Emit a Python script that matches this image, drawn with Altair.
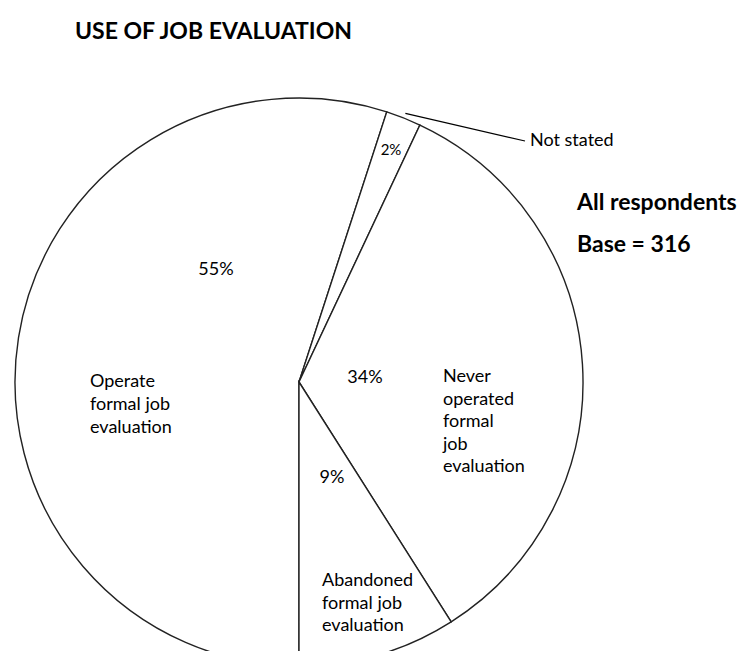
import math
import altair as alt
import pandas as pd

# ---- chart values -------------------------------------------------------
title_text = "USE OF JOB EVALUATION"
categories = [
    "Operate formal job evaluation",
    "Not stated",
    "Never operated formal job evaluation",
    "Abandoned formal job evaluation",
]
shares = [55, 2, 34, 9]
share_labels = ["55%", "2%", "34%", "9%"]
category_lines = [
    ["Operate", "formal job", "evaluation"],
    ["Not stated"],
    ["Never", "operated", "formal", "job", "evaluation"],
    ["Abandoned", "formal job", "evaluation"],
]
note_lines = ["All respondents", "Base = 316"]

# ---- layout / style -----------------------------------------------------
FONT = "Lato"
CX, CY, R = 291, 374, 284          # pie centre and radius (view pixels)
START = math.pi                   # first slice starts at 6 o'clock

df = pd.DataFrame({
    "category": categories,
    "share": shares,
    "label": share_labels,
    "order": list(range(len(categories))),
})
one = pd.DataFrame({"k": [0]})

theta = alt.Theta("share:Q", stack=True,
                  scale=alt.Scale(range=[START, START + 2 * math.pi]))
base = alt.Chart(df).encode(theta=theta, order=alt.Order("order:Q"))

pie = base.mark_arc(radius=R, fill="white", stroke="#222222", strokeWidth=1.4).encode(
    x=alt.value(CX), y=alt.value(CY)
)

# label inside the thin "Not stated" slice, positioned from the data
small_label = base.mark_text(font=FONT, fontSize=15, align="center", baseline="middle",
                             color="black").encode(
    x=alt.value(CX), y=alt.value(CY), radius=alt.value(250),
    text=alt.condition("datum.category == 'Not stated'", alt.Text("label:N"), alt.value("")),
)


def note(text, x, y, size, weight="normal", align="left", baseline="alphabetic", lh=None):
    kw = dict(font=FONT, fontSize=size, fontWeight=weight, align=align,
              baseline=baseline, color="black")
    if lh is not None:
        kw["lineHeight"] = lh
    return alt.Chart(one).mark_text(**kw).encode(
        x=alt.value(x), y=alt.value(y), text=alt.value(text)
    )


# leader line for "Not stated": from the slice rim to the label
total = sum(shares)
mid_angle = START + 2 * math.pi * (sum(shares[:1]) + shares[1] / 2) / total
lx1 = CX + (R + 5) * math.sin(mid_angle)
ly1 = CY - (R + 5) * math.cos(mid_angle)
leader = alt.Chart(one).mark_rule(color="black", strokeWidth=1.2).encode(
    x=alt.value(lx1), y=alt.value(ly1), x2=alt.value(517), y2=alt.value(133)
)

LBL = 18
layers = [
    pie,
    small_label,
    leader,
    note(title_text, 67, 31, 23, weight="bold"),
    note(note_lines[0], 569, 202, 23, weight="bold"),
    note(note_lines[1], 569, 244, 23, weight="bold"),
    note(category_lines[1][0], 522, 138, LBL),
    note(share_labels[0], 208, 262, LBL, align="center", baseline="middle"),
    note(category_lines[0], 82, 379, LBL, lh=23),
    note(share_labels[2], 357, 370, LBL, align="center", baseline="middle"),
    note(category_lines[2], 435, 374, LBL, lh=22.5),
    note(share_labels[3], 324, 470, LBL, align="center", baseline="middle"),
    note(category_lines[3], 314, 578, LBL, lh=22.5),
]

chart = alt.layer(*layers).properties(
    width=733, height=643,
    autosize=alt.AutoSizeParams(type="none"),
    padding=0,
    background="white",
).configure_view(strokeWidth=0)

chart.save("out.html", embed_options={"renderer": "svg", "actions": False})
